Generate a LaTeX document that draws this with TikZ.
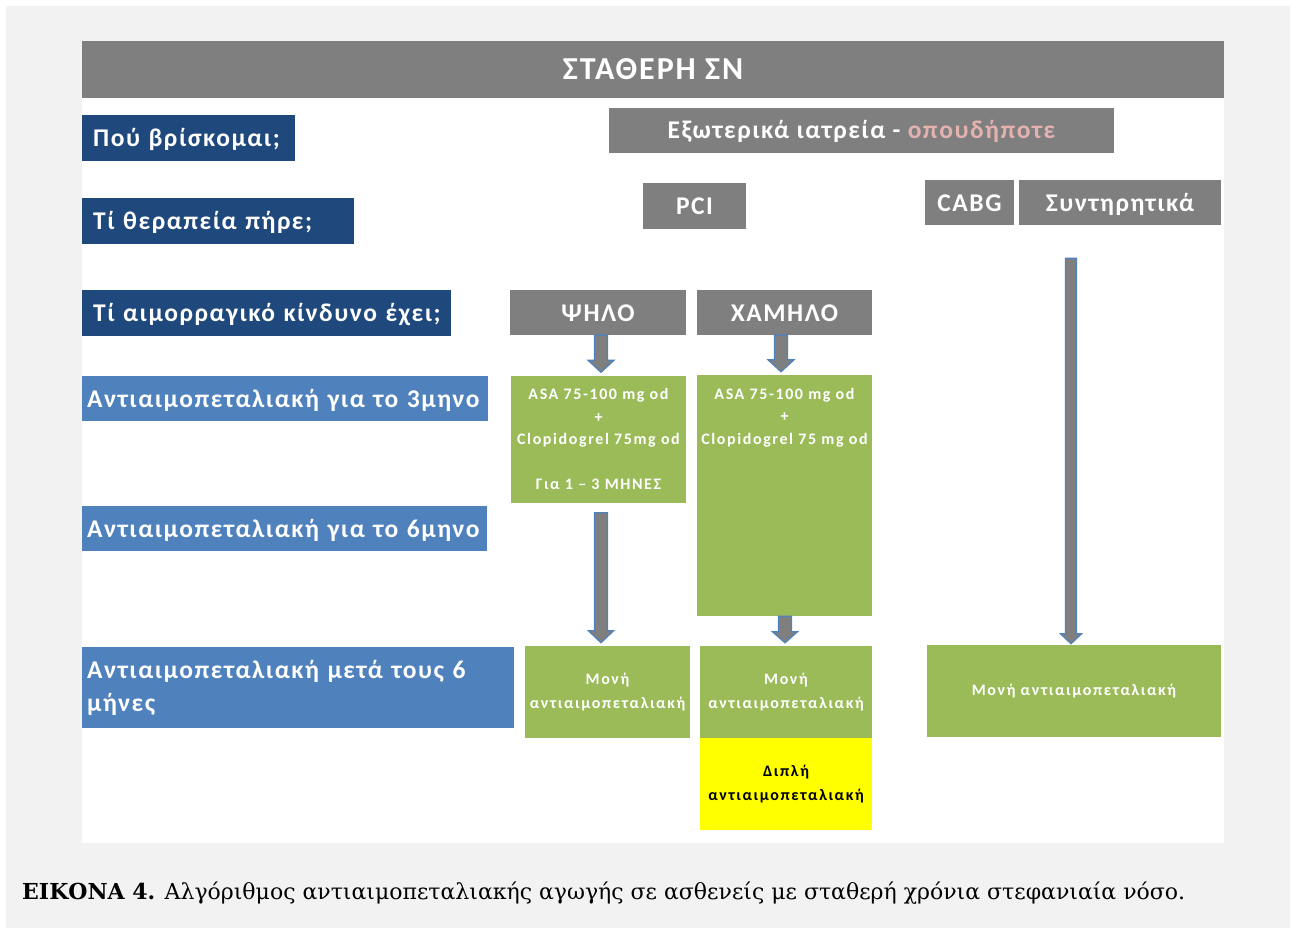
\documentclass[tikz,border=0pt]{standalone}
\usepackage{fontspec}
\setmainfont{Carlito}
\newfontfamily\boxfont[LetterSpace=6]{Carlito}
\newfontfamily\smallfont[LetterSpace=10]{Carlito}
\newfontfamily\capfont{DejaVu Serif}
\usetikzlibrary{calc,positioning}

\definecolor{boxgray}{HTML}{7F7F7F}
\definecolor{darkq}{HTML}{1F497D}
\definecolor{lightq}{HTML}{4F81BD}
\definecolor{drug}{HTML}{9BBB59}
\definecolor{pinktxt}{HTML}{E3B2AF}
\definecolor{pagebg}{HTML}{F2F2F2}
\definecolor{hilite}{HTML}{FFFF00}

% block arrow straight down: from, to, half shaft, half head, head length
\newcommand\blockarr[5]{%
  \draw[blockarrow] let \p1=(#1), \p2=(#2) in
    ({\x1-#3pt},\y1) -- ({\x1-#3pt},{\y2+#5pt}) -- ({\x1-#4pt},{\y2+#5pt}) -- (\x1,\y2)
    -- ({\x1+#4pt},{\y2+#5pt}) -- ({\x1+#3pt},{\y2+#5pt}) -- ({\x1+#3pt},\y1) -- cycle;}

\begin{document}
\begin{tikzpicture}[x=1pt,y=-1pt,
    box/.style={rectangle, inner sep=0pt, text=white, text height=17pt, text depth=0pt,
      font=\boxfont\bfseries\fontsize{25.5}{30}\selectfont},
    graybox/.style={box, fill=boxgray},
    question/.style={box, fill=darkq, anchor=west, align=left, inner xsep=11pt},
    period/.style={box, fill=lightq, anchor=west, align=left, inner xsep=5pt},
    drugbox/.style={rectangle, inner sep=0pt, text=white, fill=drug, align=center,
      font=\smallfont\bfseries\fontsize{16}{22.5}\selectfont},
    onebox/.style={drugbox, font=\smallfont\bfseries\fontsize{16}{24}\selectfont},
    blockarrow/.style={fill=boxgray, draw=lightq, line width=1.2pt}]

\useasboundingbox (0,0) rectangle (1293,931);
\fill[white] (0,0) rectangle (1293,931);
\fill[pagebg] (6,6) rectangle (1290,928);
\fill[white] (82,97) rectangle (1224,843);

% header
\node[graybox, minimum width=1142pt, minimum height=57pt, text height=21pt,
  font=\boxfont\bfseries\fontsize{32}{36}\selectfont] (title) at (653,69.5) {ΣΤΑΘΕΡΗ ΣΝ};

% questions on the left
\foreach \name/\y/\w/\txt in {q1/138/213/Πού βρίσκομαι;,
    q2/220.5/272/Τί θεραπεία πήρε;,
    q3/312.5/369/Τί αιμορραγικό κίνδυνο έχει;}
  \node[question, minimum height=46pt, text width=\w pt-22pt] (\name) at (82,\y) {\txt};

\node[period, minimum height=45pt, text width=396pt] (p3) at (82,398.5) {Αντιαιμοπεταλιακή για το 3μηνο};
\node[period, minimum height=45pt, text width=395pt] (p6) at (82,528.5) {Αντιαιμοπεταλιακή για το 6μηνο};
\node[period, minimum height=81pt, text width=422pt, text height=, text depth=,
  font=\boxfont\bfseries\fontsize{25.5}{33}\selectfont] (pafter) at (82,687.5)
  {Αντιαιμοπεταλιακή μετά τους 6\\μήνες};

% where and which treatment
\node[graybox, minimum width=505pt, minimum height=45pt] (exo) at (861.5,130.5)
  {Εξωτερικά ιατρεία - {\color{pinktxt}οπουδήποτε}};
\node[graybox, minimum width=103pt, minimum height=46pt] (pci) at (694.5,206) {PCI};
\node[graybox, minimum width=89pt, minimum height=45pt] (cabg) at (969.5,202.5) {CABG};
\node[graybox, minimum width=202pt, minimum height=45pt] (synt) at (1120,202.5) {Συντηρητικά};

% bleeding risk
\node[graybox, minimum width=176pt, minimum height=45pt] (psilo) at (598,312.5) {ΨΗΛΟ};
\node[graybox, minimum width=175pt, minimum height=45pt] (xamilo) at (784.5,312.5) {ΧΑΜΗΛΟ};

% regimens
\node[drugbox, minimum width=175pt, minimum height=127pt] (asa1) at (598.5,439)
  {ASA 75-100 mg od\\+\\Clopidogrel 75mg od\\[22.5pt]Για 1 – 3 ΜΗΝΕΣ};
\node[drugbox, minimum width=175pt, minimum height=241pt] (asa2) at (784.5,495.5) {};
\node[drugbox, fill=none, anchor=north] (asa2t) at ($(asa2.north)+(0,13)$)
  {ASA 75-100 mg od\\+\\Clopidogrel 75 mg od};

\node[onebox, minimum width=165pt, minimum height=92pt] (mone1) at (607.5,692) {Μονή\\αντιαιμοπεταλιακή};
\node[onebox, minimum width=172pt, minimum height=92pt] (mone2) at (786,692) {Μονή\\αντιαιμοπεταλιακή};
\node[onebox, fill=hilite, text=black, minimum width=172pt, minimum height=92pt] (dipli) at (786,784) {Διπλή\\αντιαιμοπεταλιακή};
\node[onebox, minimum width=294pt, minimum height=92pt] (mone3) at (1074,691) {Μονή αντιαιμοπεταλιακή};

% arrows
\blockarr{$(psilo.south)+(3,0)$}{$(asa1.north)+(0,-3)$}{6.5}{13}{12}
\blockarr{$(xamilo.south)+(-3.5,0)$}{$(asa2.north)+(0,-3)$}{6.5}{13}{12}
\blockarr{$(asa1.south)+(2.5,10)$}{$(mone1.north)+(0,-3)$}{6.5}{12.5}{12}
\blockarr{$(asa2.south)+(0.5,0)$}{$(mone2.north)+(0,-3)$}{6.5}{12.5}{11}
\coordinate (constart) at ($(synt.south)+(-49,33)$);
\blockarr{constart}{$(mone3.north)+(0,-1)$}{5.5}{10.5}{10}

% caption
\node[anchor=base west, inner sep=0pt, font=\capfont\fontsize{22}{26}\selectfont] (caption) at (22,899)
  {\textbf{ΕΙΚΟΝΑ 4.} Αλγόριθμος αντιαιμοπεταλιακής αγωγής σε ασθενείς με σταθερή χρόνια στεφανιαία νόσο.};
\end{tikzpicture}
\end{document}
